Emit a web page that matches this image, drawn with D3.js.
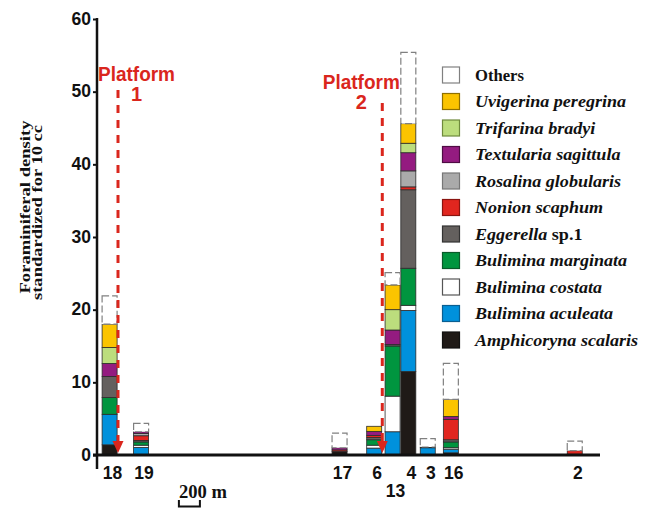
<!DOCTYPE html>
<html><head><meta charset="utf-8">
<script src="https://cdn.jsdelivr.net/npm/d3@7"></script>
<style>body{margin:0;background:#fff}</style>
</head><body>
<svg id="c" width="655" height="509"></svg>
<script>
// ---- data ----
const stations = ["18","19","17","6","13","4","3","16","2"];
const distanceM = [120, 420, 2310, 2640, 2815, 2965, 3150, 3370, 4550];
const species = ["Amphicoryna scalaris","Bulimina aculeata","Bulimina costata","Bulimina marginata","Eggerella sp.1","Nonion scaphum","Rosalina globularis","Textularia sagittula","Trifarina bradyi","Uvigerina peregrina","Others"];
const amphicoryna = [1.4, 0,    0.5, 0,    0,   11.5, 0,    0.3,  0.1];
const aculeata    = [4.2, 1.05, 0,   0.95, 3.2, 8.4,  1.0,  0.5,  0];
const costata     = [0,   0.3,  0,   0.4,  4.9, 0.7,  0.1,  0.2,  0];
const marginata   = [2.3, 0.45, 0,   0.75, 6.9, 5.1,  0,    0.8,  0];
const eggerella   = [2.9, 0.2,  0,   0.3,  0.2, 10.8, 0,    0.3,  0];
const nonion      = [0,   0.65, 0.2, 0.3,  0,   0.4,  0,    2.8,  0.5];
const rosalina    = [0,   0.3,  0,   0,    0,   2.2,  0,    0,    0];
const textularia  = [1.8, 0.25, 0.3, 0.55, 2.0, 2.5,  0,    0.4,  0];
const trifarina   = [2.2, 0,    0,   0,    2.8, 1.3,  0,    0,    0];
const uvigerina   = [3.2, 0,    0,   0.7,  3.4, 2.7,  0,    2.35, 0];
const others      = [3.9, 1.15, 2.0, 0,    1.7, 9.8,  1.15, 4.95, 1.3];
const yTicks = [0, 10, 20, 30, 40, 50, 60];
const platformNames = ["1", "2"];
const platformDistM = [200, 2717];
const scaleBarM = 200;
const scaleBarStartM = 780;

const seriesValues = [amphicoryna, aculeata, costata, marginata, eggerella, nonion, rosalina, textularia, trifarina, uvigerina, others];
const colors = ["#1f1a17","#0091dc","#ffffff","#00953f","#64605e","#e1261f","#aaaaaa","#941b80","#bcdd7d","#fbc400","#ffffff"];
const borderCols = ["#111","#0a5f91","#555","#0a5a2a","#333","#8a1410","#777","#4f0c44","#6f8a3c","#8f7000","#808080"];

// ---- build table ----
const table = stations.map((s, i) => {
  const row = {station: s, dist: distanceM[i]};
  species.forEach((k, j) => row[k] = seriesValues[j][i]);
  return row;
});

const svg = d3.select("#c");
const x = d3.scaleLinear().domain([0, 5000]).range([97, 622]);
const y = d3.scaleLinear().domain([0, 60]).range([455, 19]);
const barW = 15;

const stack = d3.stack().keys(species)(table);

// bars
const g = svg.append("g");
stack.forEach((layer, li) => {
  const isOther = species[li] === "Others";
  g.selectAll(null).data(layer.filter(d => d[1] - d[0] > 0)).enter().append("rect")
    .attr("x", d => x(d.data.dist) - barW / 2)
    .attr("y", d => y(d[1]))
    .attr("width", barW)
    .attr("height", d => y(d[0]) - y(d[1]))
    .attr("fill", colors[li])
    .attr("stroke", isOther ? "#808080" : "#2b2b2b")
    .attr("stroke-width", isOther ? 1.2 : 0.8)
    .attr("stroke-dasharray", isOther ? "7,3" : null);
});

// y axis
const yAxis = svg.append("g").attr("transform", "translate(97,0)")
  .call(d3.axisLeft(y).tickValues(yTicks).tickSize(4).tickPadding(2));
yAxis.select(".domain").remove();
yAxis.selectAll(".tick line").attr("stroke", "#111").attr("stroke-width", 2);
yAxis.selectAll(".tick text").attr("font-family", "Liberation Sans, Arial, sans-serif")
  .attr("font-weight", "bold").attr("font-size", 17.5).attr("fill", "#111").attr("dy", "0.3em");
svg.append("line").attr("x1", 97).attr("x2", 97).attr("y1", y(60) - 1).attr("y2", 469)
  .attr("stroke", "#111").attr("stroke-width", 2.5);

// x axis
const xAxis = svg.append("g").attr("transform", "translate(0,455)")
  .call(d3.axisBottom(x).tickValues(distanceM).tickFormat((d, i) => stations[i]).tickSize(0));
xAxis.select(".domain").remove();
xAxis.selectAll(".tick text").attr("font-family", "Liberation Sans, Arial, sans-serif")
  .attr("font-weight", "bold").attr("font-size", 17.5).attr("fill", "#111")
  .attr("dy", 0).attr("dx", 2.5)
  .attr("y", (d, i) => stations[i] === "13" ? 42 : 24);
svg.append("line").attr("x1", 93).attr("x2", 600).attr("y1", 455).attr("y2", 455)
  .attr("stroke", "#111").attr("stroke-width", 3);

// y title
const yt = svg.append("g").attr("font-family", "Liberation Serif, Times New Roman, serif")
  .attr("font-weight", "bold").attr("font-size", 15).attr("fill", "#111");
yt.append("text").attr("transform", "translate(30,207) rotate(-90)").attr("text-anchor", "middle")
  .attr("textLength", 173).attr("lengthAdjust", "spacingAndGlyphs").text("Foraminiferal density");
yt.append("text").attr("transform", "translate(41.5,212.5) rotate(-90)").attr("text-anchor", "middle")
  .attr("textLength", 175).attr("lengthAdjust", "spacingAndGlyphs").text("standardized for 10 cc");

// platforms
const red = "#da261d";
const platTop = [90, 103];
const platLabelDx = [18.5, -21];
const platLabelY = [81, 88.5];
platformNames.forEach((p, i) => {
  const px = x(platformDistM[i]);
  svg.append("line").attr("x1", px).attr("x2", px).attr("y1", platTop[i]).attr("y2", 442)
    .attr("stroke", red).attr("stroke-width", 3).attr("stroke-dasharray", "8,7");
  svg.append("path").attr("d", `M${px - 5.5},441 L${px + 5.5},441 L${px},453 Z`).attr("fill", red);
  const tx = px + platLabelDx[i];
  svg.append("text").attr("x", tx).attr("y", platLabelY[i]).attr("text-anchor", "middle")
    .attr("font-family", "Liberation Sans, Arial, sans-serif").attr("font-weight", "bold")
    .attr("font-size", 21).attr("fill", red)
    .attr("textLength", 77).attr("lengthAdjust", "spacingAndGlyphs").text("Platform");
  svg.append("text").attr("x", tx).attr("y", platLabelY[i] + 20).attr("text-anchor", "middle")
    .attr("font-family", "Liberation Sans, Arial, sans-serif").attr("font-weight", "bold")
    .attr("font-size", 20).attr("fill", red).text(p);
});

// scale bar
const sb0 = x(scaleBarStartM), sb1 = x(scaleBarStartM + scaleBarM);
svg.append("path").attr("d", `M${sb0},500 L${sb0},506.5 L${sb1},506.5 L${sb1},500`)
  .attr("fill", "none").attr("stroke", "#111").attr("stroke-width", 2);
svg.append("text").attr("x", sb0).attr("y", 498).attr("font-family", "Liberation Serif, Times New Roman, serif")
  .attr("font-weight", "bold").attr("font-size", 18).attr("fill", "#111")
  .attr("textLength", 48).attr("lengthAdjust", "spacingAndGlyphs").text(scaleBarM + " m");

// legend (top to bottom = reverse stack order)
const leg = svg.append("g");
const legOrder = species.map((s, i) => i).reverse();
legOrder.forEach((si, r) => {
  const cy = 75 + r * 26.5;
  leg.append("rect").attr("x", 442.5).attr("y", cy - 8).attr("width", 17).attr("height", 16)
    .attr("fill", colors[si]).attr("stroke", borderCols[si]).attr("stroke-width", 1.2);
  const name = species[si];
  const t = leg.append("text")
    .attr("transform", `translate(475,${cy + 5.5}) scale(${name === "Others" ? 1.04 : 1.13},1)`)
    .attr("font-family", "Liberation Serif, Times New Roman, serif").attr("font-weight", "bold")
    .attr("font-size", 16).attr("fill", "#111");
  if (name === "Others") {
    t.text(name);
  } else if (name.endsWith("sp.1")) {
    t.append("tspan").attr("font-style", "italic").text(name.replace(" sp.1", " "));
    t.append("tspan").text("sp.1");
  } else {
    t.attr("font-style", "italic").text(name);
  }
});
</script>
</body></html>
